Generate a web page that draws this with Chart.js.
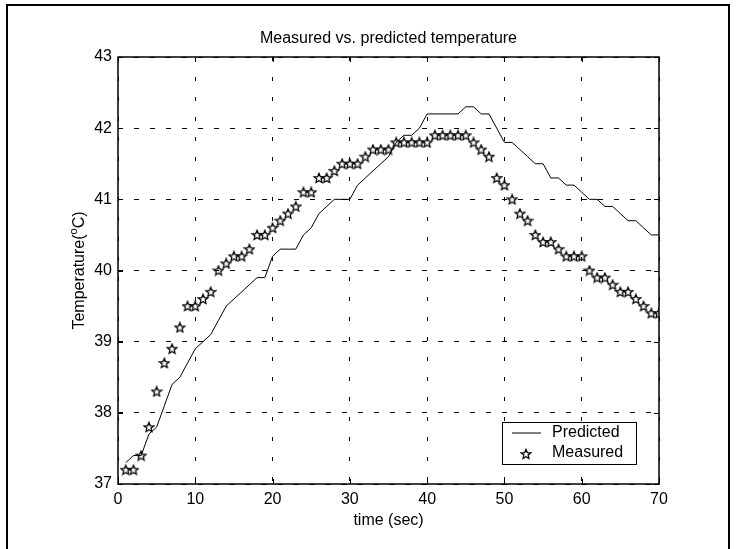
<!DOCTYPE html>
<html>
<head>
<meta charset="utf-8">
<script src="https://cdn.jsdelivr.net/npm/chart.js@4.4.1/dist/chart.umd.min.js"></script>
<style>
  html, body { margin: 0; padding: 0; background: #fff; overflow: hidden; }
</style>
</head>
<body>
<canvas id="tempChart" width="738" height="549"></canvas>
<script>
const timeSec = [
  1, 2, 3, 4, 5, 6, 7, 8, 9, 10,
  11, 12, 13, 14, 15, 16, 17, 18, 19, 20,
  21, 22, 23, 24, 25, 26, 27, 28, 29, 30,
  31, 32, 33, 34, 35, 36, 37, 38, 39, 40,
  41, 42, 43, 44, 45, 46, 47, 48, 49, 50,
  51, 52, 53, 54, 55, 56, 57, 58, 59, 60,
  61, 62, 63, 64, 65, 66, 67, 68, 69, 70
];

const predicted = [
  37.3, 37.4, 37.4, 37.7, 37.8, 38.1, 38.4, 38.5, 38.7, 38.9,
  39.0, 39.1, 39.3, 39.5, 39.6, 39.7, 39.8, 39.9, 39.9, 40.2,
  40.3, 40.3, 40.3, 40.5, 40.6, 40.8, 40.9, 41.0, 41.0, 41.0,
  41.2, 41.3, 41.4, 41.5, 41.6, 41.8, 41.9, 41.9, 42.0, 42.2,
  42.2, 42.2, 42.2, 42.2, 42.3, 42.3, 42.2, 42.2, 42.0, 41.8,
  41.8, 41.7, 41.6, 41.5, 41.5, 41.3, 41.3, 41.2, 41.2, 41.1,
  41.0, 41.0, 40.9, 40.9, 40.8, 40.7, 40.7, 40.6, 40.5, 40.5
];

const measured = [
  37.2, 37.2, 37.4, 37.8, 38.3, 38.7, 38.9, 39.2, 39.5, 39.5,
  39.6, 39.7, 40.0, 40.1, 40.2, 40.2, 40.3, 40.5, 40.5, 40.6,
  40.7, 40.8, 40.9, 41.1, 41.1, 41.3, 41.3, 41.4, 41.5, 41.5,
  41.5, 41.6, 41.7, 41.7, 41.7, 41.8, 41.8, 41.8, 41.8, 41.8,
  41.9, 41.9, 41.9, 41.9, 41.9, 41.8, 41.7, 41.6, 41.3, 41.2,
  41.0, 40.8, 40.7, 40.5, 40.4, 40.4, 40.3, 40.2, 40.2, 40.2,
  40.0, 39.9, 39.9, 39.8, 39.7, 39.7, 39.6, 39.5, 39.4, 39.4
];

const xTicks = [0, 10, 20, 30, 40, 50, 60, 70];
const yTicks = [37, 38, 39, 40, 41, 42, 43];

const FONT = 'Liberation Sans, Arial, Helvetica, sans-serif';

// outlined five point star used as marker
function makeStar(size) {
  const c = document.createElement('canvas');
  c.width = size; c.height = size;
  const g = c.getContext('2d');
  const cx = size / 2, cy = size / 2 + 0.4;
  const ro = size / 2 - 1, ri = ro * 0.45;
  g.beginPath();
  for (let i = 0; i < 10; i++) {
    const r = i % 2 ? ri : ro;
    const a = -Math.PI / 2 + i * Math.PI / 5;
    const px = cx + r * Math.cos(a), py = cy + r * Math.sin(a);
    i ? g.lineTo(px, py) : g.moveTo(px, py);
  }
  g.closePath();
  g.lineWidth = 1.3;
  g.lineJoin = 'miter';
  g.strokeStyle = '#000';
  g.stroke();
  return c;
}
const starImg = makeStar(12);

const figurePlugin = {
  id: 'figure',
  beforeDraw(chart) {
    const ctx = chart.ctx;
    ctx.save();
    ctx.fillStyle = '#fff';
    ctx.fillRect(0, 0, chart.width, chart.height);
    ctx.strokeStyle = '#000';
    ctx.lineWidth = 2;
    ctx.strokeRect(7, 5, 722, 580);
    ctx.restore();
  },
  afterDraw(chart) {
    const ctx = chart.ctx;
    const a = chart.chartArea;
    const xs = chart.scales.x, ys = chart.scales.y;
    ctx.save();
    ctx.strokeStyle = '#000';
    ctx.lineWidth = 1;
    // inward tick marks
    ctx.beginPath();
    xTicks.forEach(v => {
      const px = Math.round(xs.getPixelForValue(v)) + 0.5;
      ctx.moveTo(px, a.bottom); ctx.lineTo(px, a.bottom - 5);
      ctx.moveTo(px, a.top); ctx.lineTo(px, a.top + 5);
    });
    yTicks.forEach(v => {
      const py = Math.round(ys.getPixelForValue(v)) + 0.5;
      ctx.moveTo(a.left, py); ctx.lineTo(a.left + 5, py);
      ctx.moveTo(a.right, py); ctx.lineTo(a.right - 5, py);
    });
    ctx.stroke();
    // axes box
    ctx.lineWidth = 1.5;
    ctx.strokeRect(a.left, a.top, a.right - a.left, a.bottom - a.top);

    // title
    ctx.fillStyle = '#000';
    ctx.font = '16px ' + FONT;
    ctx.textAlign = 'center';
    ctx.textBaseline = 'middle';
    ctx.fillText('Measured vs. predicted temperature', (a.left + a.right) / 2, 39);
    // x axis title
    ctx.fillText('time (sec)', (a.left + a.right) / 2, 521);

    // y axis title with superscript
    ctx.save();
    ctx.translate(80, (a.top + a.bottom) / 2);
    ctx.rotate(-Math.PI / 2);
    const p1 = 'Temperature(', sup = 'o', p2 = 'C)';
    ctx.font = '16px ' + FONT;
    const w1 = ctx.measureText(p1).width, w3 = ctx.measureText(p2).width;
    ctx.font = '11px ' + FONT;
    const w2 = ctx.measureText(sup).width;
    let x0 = -(w1 + w2 + w3) / 2;
    ctx.textAlign = 'left';
    ctx.font = '16px ' + FONT;
    ctx.fillText(p1, x0, 0);
    ctx.font = '11px ' + FONT;
    ctx.fillText(sup, x0 + w1, -6);
    ctx.font = '16px ' + FONT;
    ctx.fillText(p2, x0 + w1 + w2, 0);
    ctx.restore();

    // legend box
    const bx = a.right - 157, by = a.bottom - 62, bw = 134, bh = 42;
    ctx.fillStyle = '#fff';
    ctx.fillRect(bx, by, bw, bh);
    ctx.lineWidth = 1;
    ctx.strokeStyle = '#000';
    ctx.strokeRect(bx + 0.5, by + 0.5, bw, bh);
    const ds = chart.data.datasets;
    ctx.strokeStyle = '#555';
    ctx.lineWidth = 1.5;
    ctx.beginPath();
    ctx.moveTo(bx + 10, by + 11);
    ctx.lineTo(bx + 39, by + 11);
    ctx.stroke();
    ctx.drawImage(starImg, bx + 24 - 6, by + 32 - 6);
    ctx.fillStyle = '#000';
    ctx.font = '16px ' + FONT;
    ctx.textAlign = 'left';
    ctx.textBaseline = 'middle';
    ctx.fillText(ds[0].label, bx + 50, by + 11);
    ctx.fillText(ds[1].label, bx + 50, by + 31);
    ctx.restore();
  }
};

new Chart(document.getElementById('tempChart').getContext('2d'), {
  type: 'line',
  data: {
    datasets: [
      {
        label: 'Predicted',
        data: timeSec.map((t, i) => ({ x: t, y: predicted[i] })),
        borderColor: '#000',
        borderWidth: 1,
        pointRadius: 0,
        tension: 0,
        fill: false
      },
      {
        label: 'Measured',
        data: timeSec.map((t, i) => ({ x: t, y: measured[i] })),
        showLine: false,
        pointStyle: starImg,
        pointRadius: 5
      }
    ]
  },
  options: {
    responsive: false,
    animation: false,
    devicePixelRatio: 1,
    layout: { padding: { top: 57, right: 79, bottom: 0, left: 0 } },
    plugins: {
      legend: { display: false },
      title: { display: false },
      tooltip: { enabled: false }
    },
    scales: {
      x: {
        type: 'linear',
        min: 0,
        max: 70,
        afterFit(scale) { scale.height = 65; },
        afterBuildTicks(scale) { scale.ticks = xTicks.map(v => ({ value: v })); },
        grid: { color: '#000', lineWidth: 1, drawTicks: false },
        border: { display: false, dash: [4, 16] },
        ticks: { color: '#000', padding: 6, font: { size: 16, family: FONT } }
      },
      y: {
        min: 37,
        max: 43,
        afterFit(scale) { scale.width = 118; },
        afterBuildTicks(scale) { scale.ticks = yTicks.map(v => ({ value: v })); },
        grid: { color: '#000', lineWidth: 1, drawTicks: false },
        border: { display: false, dash: [5, 11] },
        ticks: { color: '#000', padding: 6, font: { size: 16, family: FONT } }
      }
    }
  },
  plugins: [figurePlugin]
});
</script>
</body>
</html>
